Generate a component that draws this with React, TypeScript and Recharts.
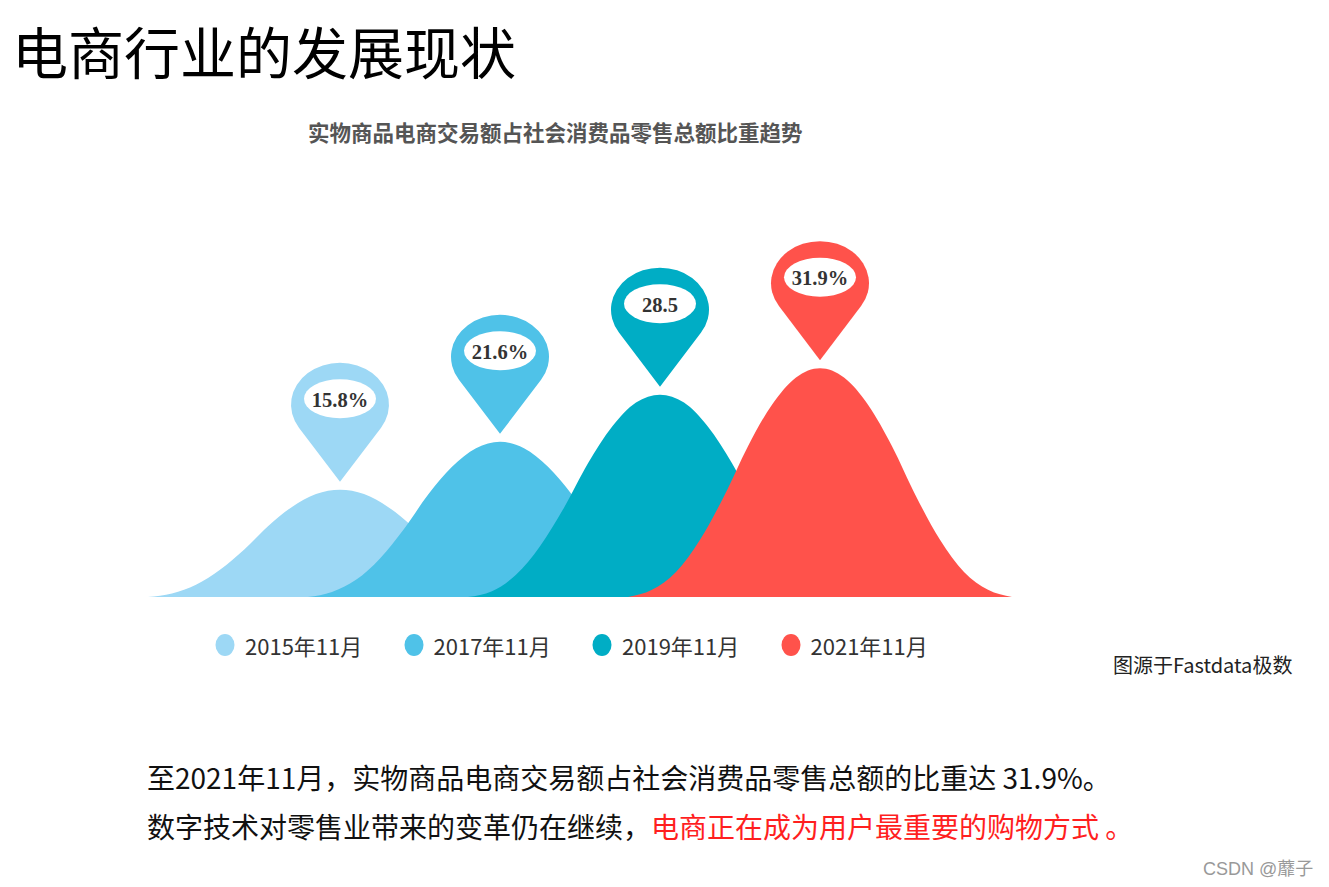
import React from 'react';
import { ComposedChart, Area, XAxis, YAxis, ReferenceDot, Legend } from 'recharts';

const seriesNames = ['2015年11月', '2017年11月', '2019年11月', '2021年11月'];
const seriesColors = ['#9DD8F5', '#4FC2E8', '#00ADC5', '#FF524B'];
const pinLabels = ['15.8%', '21.6%', '28.5', '31.9%'];

const x2015 = [0, 3, 6, 9, 12, 15, 18, 21, 24, 27, 30, 33, 36, 39, 42, 45, 48];
const v2015 = [0, 0.5, 1.7, 3.8, 6.6, 9.9, 12.6, 14.4, 15.0, 14.4, 12.6, 9.9, 6.6, 3.8, 1.7, 0.5, 0];
const x2017 = [20, 23, 26, 29, 32, 35, 38, 41, 44, 47, 50, 53, 56, 59, 62, 65, 68];
const v2017 = [0, 0.7, 2.4, 5.4, 9.5, 14.3, 18.2, 20.8, 21.7, 20.8, 18.2, 14.3, 9.5, 5.4, 2.4, 0.7, 0];
const x2019 = [40, 43, 46, 49, 52, 55, 58, 61, 64, 67, 70, 73, 76, 79, 82, 85, 88];
const v2019 = [0, 0.8, 3.1, 7.1, 12.5, 18.7, 23.8, 27.2, 28.3, 27.2, 23.8, 18.7, 12.5, 7.1, 3.1, 0.8, 0];
const x2021 = [60, 63, 66, 69, 72, 75, 78, 81, 84, 87, 90, 93, 96, 99, 102, 105, 108];
const v2021 = [0, 1.0, 3.5, 8.0, 14.1, 21.1, 26.9, 30.7, 32.0, 30.7, 26.9, 21.1, 14.1, 8.0, 3.5, 1.0, 0];

const seriesX = [x2015, x2017, x2019, x2021];
const seriesV = [v2015, v2017, v2019, v2021];

const CJK = '"Noto Sans CJK SC", "Noto Sans", sans-serif';

const makePin = (color: string, label: string) => (props: any) => {
  const { cx, cy } = props;
  if (cx == null || cy == null) return <g />;
  const tipY = cy - 8;
  const rx = 49;
  const ry = 42;
  const d = 77;
  const hy = tipY - d;
  const k = rx / ry;
  const dScaled = d * k;
  const cosT = rx / dScaled;
  const sinT = Math.sqrt(1 - cosT * cosT);
  const tx = rx * sinT;
  const tyOff = (rx * cosT) / k;
  const ty = hy + tyOff;
  const path = `M ${cx} ${tipY} L ${cx - tx} ${ty} A ${rx} ${ry} 0 1 1 ${cx + tx} ${ty} Z`;
  const ey = tipY - 83;
  return (
    <g>
      <path d={path} fill={color} />
      <ellipse cx={cx} cy={ey} rx={36} ry={19.5} fill="#fff" />
      <text
        x={cx}
        y={ey + 1}
        textAnchor="middle"
        dominantBaseline="central"
        fontFamily='"Liberation Serif", "DejaVu Serif", serif'
        fontWeight="bold"
        fontSize={20.5}
        fill="#333"
      >
        {label}
      </text>
    </g>
  );
};

const renderLegend = () => (
  <div style={{ position: 'relative', width: 1329, height: 30 }}>
    {seriesNames.map((n, i) => (
      <div
        key={n}
        style={{
          position: 'absolute',
          left: 215 + i * 188.5,
          top: 0,
          height: 30,
          display: 'flex',
          alignItems: 'center',
        }}
      >
        <svg width={20} height={24}>
          <ellipse cx={10} cy={12} rx={9.5} ry={11} fill={seriesColors[i]} />
        </svg>
        <span style={{ marginLeft: 10, fontSize: 22, color: '#333', fontFamily: CJK, whiteSpace: 'nowrap' }}>{n}</span>
      </div>
    ))}
  </div>
);

export default function App() {
  const dataSets = seriesX.map((xs, i) => xs.map((x, j) => ({ x, y: seriesV[i][j] })));
  return (
    <div style={{ position: 'absolute', left: 0, top: 0, width: 1329, height: 887, background: '#fff', overflow: 'hidden' }}>
      <div style={{ position: 'absolute', left: 12, top: 22, fontSize: 56, lineHeight: 1, fontFamily: CJK, color: '#000', whiteSpace: 'nowrap' }}>
        电商行业的发展现状
      </div>
      <div style={{ position: 'absolute', left: 308, top: 121, fontSize: 21.5, lineHeight: 1, fontFamily: CJK, fontWeight: 'bold', color: '#555', whiteSpace: 'nowrap' }}>
        实物商品电商交易额占社会消费品零售总额比重趋势
      </div>
      <div style={{ position: 'absolute', left: 0, top: 0 }}>
        <ComposedChart width={1329} height={700} margin={{ top: 311, right: 317, bottom: 73, left: 148 }}>
          <XAxis type="number" dataKey="x" domain={[0, 108]} hide allowDuplicatedCategory={false} />
          <YAxis type="number" domain={[0, 40]} hide />
          {dataSets.map((ds, i) => (
            <Area
              key={seriesNames[i]}
              data={ds}
              dataKey="y"
              name={seriesNames[i]}
              type="monotone"
              fill={seriesColors[i]}
              fillOpacity={1}
              stroke="none"
              isAnimationActive={false}
            />
          ))}
          {dataSets.map((ds, i) => {
            const vs = seriesV[i];
            const k = vs.indexOf(Math.max(...vs));
            return (
              <ReferenceDot
                key={'pin' + i}
                x={seriesX[i][k]}
                y={vs[k]}
                r={4}
                shape={makePin(seriesColors[i], pinLabels[i])}
              />
            );
          })}
          <Legend content={renderLegend} wrapperStyle={{ left: 0, top: 630, width: 1329, height: 30 }} />
        </ComposedChart>
      </div>
      <div style={{ position: 'absolute', left: 1113, top: 655, fontSize: 20, lineHeight: 1, fontFamily: CJK, color: '#222', whiteSpace: 'nowrap' }}>
        图源于Fastdata极数
      </div>
      <div style={{ position: 'absolute', left: 147, top: 763, fontSize: 28, lineHeight: 1, fontFamily: CJK, color: '#111', whiteSpace: 'nowrap' }}>
        至2021年11月，实物商品电商交易额占社会消费品零售总额的比重达 31.9%。
      </div>
      <div style={{ position: 'absolute', left: 147, top: 812, fontSize: 28, lineHeight: 1, fontFamily: CJK, color: '#111', whiteSpace: 'nowrap' }}>
        数字技术对零售业带来的变革仍在继续，<span style={{ color: '#FF1F1F' }}>电商正在成为用户最重要的购物方式 。</span>
      </div>
      <div style={{ position: 'absolute', left: 1203, top: 858, fontSize: 18, lineHeight: 1, fontFamily: '"Liberation Sans", Arial, sans-serif', color: '#999', whiteSpace: 'nowrap' }}>
        CSDN @<span style={{ fontFamily: CJK }}>蘼子</span>
      </div>
    </div>
  );
}
